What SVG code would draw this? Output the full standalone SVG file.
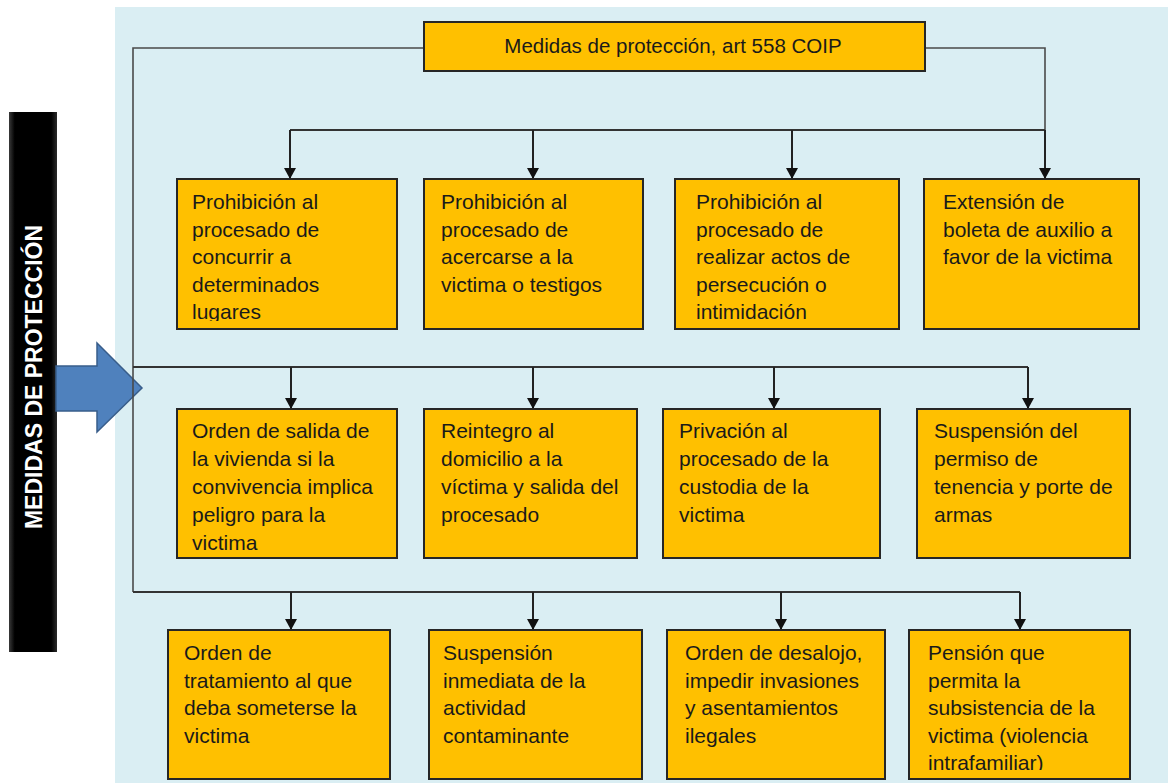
<svg xmlns="http://www.w3.org/2000/svg" width="1168" height="783" viewBox="0 0 1168 783">
<style>
.box{fill:#FFC000;stroke:#262626;stroke-width:2}
.t{font-family:"Liberation Sans",Arial,sans-serif;font-size:21px;fill:#1a1a1a}
.title{font-family:"Liberation Sans",Arial,sans-serif;font-size:20.5px;fill:#1a1a1a}
.bus{fill:none;stroke:#333;stroke-width:2}
.outer{fill:none;stroke:#4a4a4a;stroke-width:1.6}
.drop{fill:none;stroke:#222;stroke-width:2;marker-end:url(#ah)}
</style>
<defs>
<marker id="ah" viewBox="0 0 12 11" refX="6" refY="11" markerWidth="12" markerHeight="11" markerUnits="userSpaceOnUse" orient="0">
<path d="M0,0 L12,0 L6,11 Z" fill="#111"/>
</marker>
<linearGradient id="bar" x1="0" y1="0" x2="1" y2="0">
<stop offset="0" stop-color="#3a3a3a"/>
<stop offset="0.12" stop-color="#000"/>
<stop offset="0.88" stop-color="#000"/>
<stop offset="1" stop-color="#2a2a2a"/>
</linearGradient>
<clipPath id="c11"><rect x="177" y="179" width="220" height="142"/></clipPath>
<clipPath id="c13"><rect x="675" y="179" width="224" height="142"/></clipPath>
<clipPath id="c21"><rect x="177" y="409" width="220" height="142"/></clipPath>
<clipPath id="c34"><rect x="909" y="630" width="221" height="140"/></clipPath>
</defs>
<rect x="115" y="7" width="1053" height="776" fill="#DAEEF3"/>

<g id="side-label">
<rect x="9" y="112" width="48" height="540" fill="url(#bar)"/>
<text x="42" y="377" transform="rotate(-90 42 377)" text-anchor="middle" font-family="'Liberation Sans',Arial,sans-serif" font-size="23" font-weight="bold" fill="#fff">MEDIDAS DE PROTECCIÓN</text>
</g>
<g id="big-arrow">
<path d="M56,366 L97,366 L97,343 L142,388 L97,432 L97,411 L56,411 Z" fill="#4F81BD" stroke="#385D8A" stroke-width="1.5"/>
</g>

<g id="connectors">
<path class="outer" d="M424,48 H133 V592"/>
<path class="outer" d="M925,48 H1045 V130"/>
<path class="bus" d="M290,130 H1045"/>
<path class="bus" d="M133,367 H1028"/>
<path class="bus" d="M133,592 H1020"/>
<path class="drop" d="M290,130 V179"/>
<path class="drop" d="M533,130 V179"/>
<path class="drop" d="M792,130 V179"/>
<path class="drop" d="M1045,130 V179"/>
<path class="drop" d="M291,367 V409"/>
<path class="drop" d="M533,367 V409"/>
<path class="drop" d="M774,367 V409"/>
<path class="drop" d="M1028,367 V409"/>
<path class="drop" d="M291,592 V630"/>
<path class="drop" d="M533,592 V630"/>
<path class="drop" d="M781,592 V630"/>
<path class="drop" d="M1020,592 V630"/>
</g>

<g id="n-top">
<rect class="box" x="424" y="22" width="501" height="49"/>
<text class="title" x="673" y="53" text-anchor="middle">Medidas de protección, art 558 COIP</text>
</g>

<g id="n-r1c1">
<rect class="box" x="177" y="179" width="220" height="150"/>
<text class="t" clip-path="url(#c11)"><tspan x="192" y="209">Prohibición al</tspan><tspan x="192" y="236.5">procesado de</tspan><tspan x="192" y="264">concurrir a</tspan><tspan x="192" y="291.5">determinados</tspan><tspan x="192" y="319">lugares</tspan></text>
</g>
<g id="n-r1c2">
<rect class="box" x="424" y="179" width="219" height="150"/>
<text class="t"><tspan x="441" y="209">Prohibición al</tspan><tspan x="441" y="236.5">procesado de</tspan><tspan x="441" y="264">acercarse a la</tspan><tspan x="441" y="291.5">victima o testigos</tspan></text>
</g>
<g id="n-r1c3">
<rect class="box" x="675" y="179" width="224" height="150"/>
<text class="t" clip-path="url(#c13)"><tspan x="696" y="209">Prohibición al</tspan><tspan x="696" y="236.5">procesado de</tspan><tspan x="696" y="264">realizar actos de</tspan><tspan x="696" y="291.5">persecución o</tspan><tspan x="696" y="319">intimidación</tspan></text>
</g>
<g id="n-r1c4">
<rect class="box" x="924" y="179" width="215" height="150"/>
<text class="t"><tspan x="943" y="209">Extensión de</tspan><tspan x="943" y="236.5">boleta de auxilio a</tspan><tspan x="943" y="264">favor de la victima</tspan></text>
</g>

<g id="n-r2c1">
<rect class="box" x="177" y="409" width="220" height="149"/>
<text class="t" clip-path="url(#c21)"><tspan x="192" y="438">Orden de salida de</tspan><tspan x="192" y="466">la vivienda si la</tspan><tspan x="192" y="494">convivencia implica</tspan><tspan x="192" y="522">peligro para la</tspan><tspan x="192" y="550">victima</tspan></text>
</g>
<g id="n-r2c2">
<rect class="box" x="424" y="409" width="213" height="149"/>
<text class="t"><tspan x="441" y="438">Reintegro al</tspan><tspan x="441" y="466">domicilio a la</tspan><tspan x="441" y="494">víctima y salida del</tspan><tspan x="441" y="522">procesado</tspan></text>
</g>
<g id="n-r2c3">
<rect class="box" x="663" y="409" width="217" height="149"/>
<text class="t"><tspan x="679" y="438">Privación al</tspan><tspan x="679" y="466">procesado de la</tspan><tspan x="679" y="494">custodia de la</tspan><tspan x="679" y="522">victima</tspan></text>
</g>
<g id="n-r2c4">
<rect class="box" x="917" y="409" width="213" height="149"/>
<text class="t"><tspan x="934" y="438">Suspensión del</tspan><tspan x="934" y="466">permiso de</tspan><tspan x="934" y="494">tenencia y porte de</tspan><tspan x="934" y="522">armas</tspan></text>
</g>

<g id="n-r3c1">
<rect class="box" x="168" y="630" width="222" height="149"/>
<text class="t"><tspan x="184" y="660">Orden de</tspan><tspan x="184" y="687.5">tratamiento al que</tspan><tspan x="184" y="715">deba someterse la</tspan><tspan x="184" y="742.5">victima</tspan></text>
</g>
<g id="n-r3c2">
<rect class="box" x="429" y="630" width="213" height="149"/>
<text class="t"><tspan x="443" y="660">Suspensión</tspan><tspan x="443" y="687.5">inmediata de la</tspan><tspan x="443" y="715">actividad</tspan><tspan x="443" y="742.5">contaminante</tspan></text>
</g>
<g id="n-r3c3">
<rect class="box" x="667" y="630" width="218" height="149"/>
<text class="t"><tspan x="685" y="660">Orden de desalojo,</tspan><tspan x="685" y="687.5">impedir invasiones</tspan><tspan x="685" y="715">y asentamientos</tspan><tspan x="685" y="742.5">ilegales</tspan></text>
</g>
<g id="n-r3c4">
<rect class="box" x="909" y="630" width="221" height="149"/>
<text class="t" clip-path="url(#c34)"><tspan x="928" y="660">Pensión que</tspan><tspan x="928" y="687.5">permita la</tspan><tspan x="928" y="715">subsistencia de la</tspan><tspan x="928" y="742.5">victima (violencia</tspan><tspan x="928" y="770">intrafamiliar)</tspan></text>
</g>
</svg>
